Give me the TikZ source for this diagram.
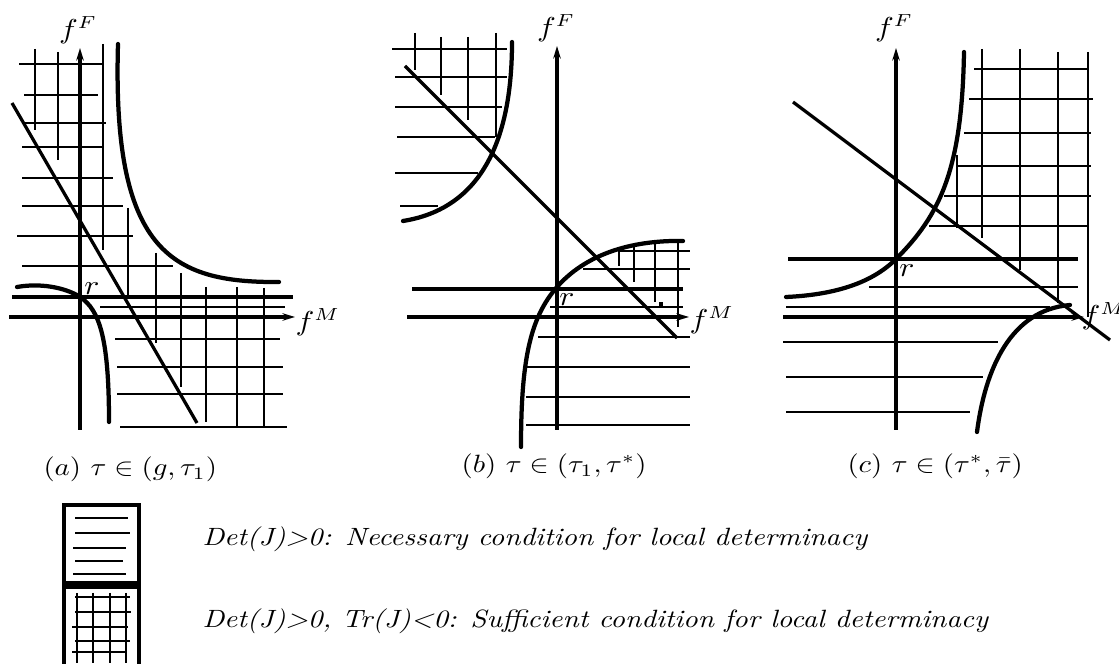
\documentclass[tikz,border=0pt]{standalone}
\usetikzlibrary{arrows.meta}
\newcommand\widetext[1]{\scalebox{1.15}[1]{#1}}
\tikzset{
  gridline/.style={line width=0.65pt},
  heavy/.style={line width=1.6pt},
  curveline/.style={line width=1.7pt, line cap=round},
  diag/.style={line width=1.3pt},
  axisline/.style={line width=1.6pt, -{Stealth[length=5pt,width=3pt]}},
  lbl/.style={inner sep=0pt, font=\fontsize{10.5}{12}\selectfont},
  caplbl/.style={inner sep=0pt, font=\fontsize{10}{12}\selectfont},
  legtext/.style={inner sep=0pt, font=\fontsize{10}{12}\selectfont\itshape},
  legendbox/.style={line width=1.4pt},
}
\begin{document}
\begin{tikzpicture}[x=0.4pt,y=-0.4pt]
\useasboundingbox (0,0) rectangle (1119,664);

%% ---------------- panel (a) ----------------
\foreach \x/\a/\b in {35/49/130, 58/52/160, 103/44/250, 128/208/296, 156/253/343,
  181/273/387, 206/287/422, 237/287/427, 264/288/427}
  \draw[gridline] (\x,\a) -- (\x,\b);
\foreach \y/\a/\b in {64/19/102, 95/24/98, 123/24/106, 147/22/103, 178/22/113,
  206/22/123, 236/17/133, 266/22/173, 307/100/285, 339/115/280, 367/117/283,
  394/117/283, 427/120/287}
  \draw[gridline] (\a,\y) -- (\b,\y);
\draw[heavy] (12,297) -- (293,297);
\draw[axisline] (80,430) -- (80,48);
\draw[axisline] (9,317) -- (295,317);
\draw[curveline] (118,44) .. controls (112,250) and (170,283) .. (279,282);
\draw[curveline] (17,287) .. controls (45,282) and (70,290) .. (80,297)
                 .. controls (100,310) and (109,340) .. (109,422);
\draw[diag] (12,103) -- (197,423);
\node[lbl] (fFa) at (78,30) {\widetext{$f^F$}};
\node[lbl, anchor=west] (fMa) at (295,322) {\widetext{$f^M$}};
\node[lbl] (ra) at (92,289) {\widetext{$r$}};
\node[caplbl, anchor=base west] (capa) at (43,476) {\widetext{$(a)$ $\tau\in(g,\tau_1)$}};

%% ---------------- panel (b) ----------------
\foreach \x/\a/\b in {415/33/70, 441/37/95, 468/37/120, 496/33/137,
  619/250/266, 634/246/282, 655/243/302, 678/241/327}
  \draw[gridline] (\x,\a) -- (\x,\b);
\foreach \y/\a/\b in {49/392/507, 77/395/507, 107/395/502, 137/397/495, 173/395/478,
  206/400/438, 251/620/690, 269/583/690, 307/550/683, 337/538/690, 367/527/690,
  397/526/690, 425/526/690}
  \draw[gridline] (\a,\y) -- (\b,\y);
\fill (659,302) rectangle (663,306);
\draw[heavy] (412,289) -- (683,289);
\draw[axisline] (557,430) -- (557,46);
\draw[axisline] (407,317) -- (689,317);
\draw[curveline] (512,42) .. controls (512,170) and (460,212) .. (403,221);
\draw[curveline] (683,241) .. controls (630,240) and (585,255) .. (557,287)
                 .. controls (530,318) and (521,360) .. (521,447);
\draw[diag] (405,66) -- (677,338);
\node[lbl] (fFb) at (556,28) {\widetext{$f^F$}};
\node[lbl, anchor=west] (fMb) at (689,320) {\widetext{$f^M$}};
\node[lbl] (rb) at (567,300) {\widetext{$r$}};
\node[caplbl, anchor=base east] (capb) at (647,473) {\widetext{$(b)$ $\tau\in(\tau_1,\tau^*)$}};

%% ---------------- panel (c) ----------------
\foreach \x/\a/\b in {982/49/238, 1020/49/270, 1058/52/303, 1088/52/317, 957/155/228}
  \draw[gridline] (\x,\a) -- (\x,\b);
\foreach \y/\a/\b in {69/974/1088, 99/969/1093, 133/964/1091, 166/956/1091,
  196/944/1091, 226/929/1088, 287/869/1078, 307/786/1050, 342/783/998,
  377/786/983, 412/786/970}
  \draw[gridline] (\a,\y) -- (\b,\y);
\draw[heavy] (788,259) -- (1078,259);
\draw[axisline] (896,430) -- (896,48);
\draw[axisline] (783,317) -- (1084,317);
\draw[curveline] (964,52) .. controls (962,170) and (940,215) .. (896,259)
                 .. controls (870,285) and (830,295) .. (786,297);
\draw[curveline] (1070,305) .. controls (1010,310) and (985,370) .. (977,432);
\draw[diag] (793,102) -- (1110,340);
\node[lbl] (fFc) at (894,28) {\widetext{$f^F$}};
\node[lbl, anchor=west] (fMc) at (1081,316) {\widetext{$f^M$}};
\node[lbl] (rc) at (907,271) {\widetext{$r$}};
\node[caplbl, anchor=base west] (capc) at (847,473) {\widetext{$(c)$ $\tau\in(\tau^*,\bar\tau)$}};

%% ---------------- legend ----------------
\draw[legendbox] (64,505) rectangle (139,583);
\foreach \y/\a/\b in {518/75/128, 533/75/130, 548/73/126, 561/75/123}
  \draw[gridline] (\a,\y) -- (\b,\y);
\draw[line width=0.9pt] (73,574) -- (126,574);
\draw[legendbox] (64,587) rectangle (139,666);
\foreach \x in {77,93,110,126}
  \draw[gridline] (\x,593) -- (\x,663);
\foreach \y/\a/\b in {597/75/130, 612/75/131, 627/72/128, 641/75/130}
  \draw[gridline] (\a,\y) -- (\b,\y);
\draw[line width=0.9pt] (72,652) -- (126,652);
\node[legtext, anchor=base west] (leg1) at (202,546) {\widetext{Det(J)>0: Necessary condition for local determinacy}};
\node[legtext, anchor=base west] (leg2) at (202,628) {\widetext{Det(J)>0, Tr(J)<0: Sufficient condition for local determinacy}};
\end{tikzpicture}
\end{document}
